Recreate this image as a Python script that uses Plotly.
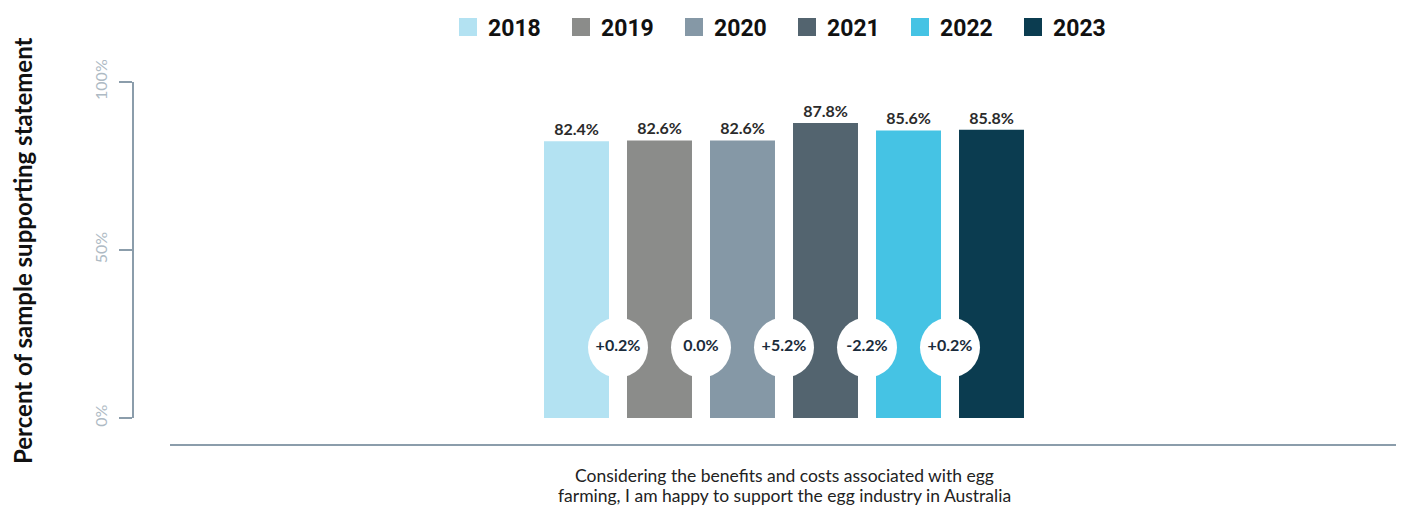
import plotly.graph_objects as go

years = [2018, 2019, 2020, 2021, 2022, 2023]
values = [82.4, 82.6, 82.6, 87.8, 85.6, 85.8]
changes = ["+0.2%", "0.0%", "+5.2%", "-2.2%", "+0.2%"]
colors = ["#b3e2f2", "#8b8c8a", "#8598a6", "#53646f", "#45c3e4", "#0b3c50"]
y_ticks = [0, 50, 100]
y_ticktext = ["0%", "50%", "100%"]
question_lines = ["Considering the benefits and costs associated with egg",
                  "farming, I am happy to support the egg industry in Australia"]
y_title = "Percent of sample supporting statement"
circle_level = 21

FONT = "Lato, Open Sans, sans-serif"
OFF = 8  # page body margin

fig = go.Figure()

for yr, v, c in zip(years, values, colors):
    fig.add_trace(go.Bar(
        x=[yr], y=[v], width=0.783, marker=dict(color=c, line=dict(width=0)),
        text=[f"<b>{v:.1f}%</b>"], textposition="outside", cliponaxis=False,
        textfont=dict(family=FONT, size=16, color="#2b2b2b"),
        showlegend=False, hoverinfo="skip"))

# legend entries
for yr, c in zip(years, colors):
    fig.add_trace(go.Scatter(
        x=[None], y=[None], mode="markers", name=f"<b>{yr}</b>",
        marker=dict(symbol="square", size=16, color=c, line=dict(color=c, width=2))))

# change circles between bars
mid_x = [(a + b) / 2 for a, b in zip(years[:-1], years[1:])]
fig.add_trace(go.Scatter(
    x=mid_x, y=[circle_level] * len(mid_x), mode="markers+text",
    marker=dict(size=60, color="white", line=dict(width=0)),
    text=[f"<b>{t}</b>" for t in changes], textposition="middle center",
    textfont=dict(family=FONT, size=16, color="#1a2b3b"),
    showlegend=False, hoverinfo="skip", cliponaxis=False))

W, H = 1404 - OFF, 505 - OFF
ml, mr, mt = 133 - OFF, 1404 - 1397, 82 - OFF
mb = H - (445 - OFF)
pw, ph = W - ml - mr, H - mt - mb
x_dom0 = (170 - 133) / pw
y_dom0 = 27 / ph
px_per_unit = 83
x_lo = years[0] + (170 - 576.5) / px_per_unit
x_hi = years[0] + (1397 - 576.5) / px_per_unit

annotations = [
    dict(text=f"<b>{y_title}</b>", xref="paper", x=(22 - 133) / pw, xanchor="center",
         yref="paper", y=(445 - 251) / ph, yanchor="middle", textangle=-90,
         showarrow=False,
         font=dict(family=FONT, size=24, color="#111111")),
]
for i, line in enumerate(question_lines):
    annotations.append(dict(
        text=line, xref="x", x=(years[0] + years[-1]) / 2,
        yref="paper", y=-(475 + 20 * i - 445) / ph, yanchor="middle",
        height=19, borderpad=0,
        showarrow=False, align="center",
        font=dict(family=FONT, size=17.5, color="#222222")))

fig.update_layout(
    width=W, height=H,
    margin=dict(l=ml, r=mr, t=mt, b=mb, autoexpand=False),
    paper_bgcolor="white", plot_bgcolor="white",
    barmode="overlay",
    legend=dict(orientation="h", x=(448 - 133) / pw, xanchor="left",
                yref="container", y=1 - (27 - OFF) / H, yanchor="middle",
                entrywidth=68, entrywidthmode="pixels",
                font=dict(family="Roboto, Liberation Sans, sans-serif",
                          size=23, color="#111111"),
                itemclick=False, itemdoubleclick=False),
    xaxis=dict(domain=[x_dom0, 1], range=[x_lo, x_hi], anchor="free", position=0,
               showline=True, linecolor="#8b9dab", linewidth=2,
               showgrid=False, zeroline=False, showticklabels=False, ticks=""),
    yaxis=dict(domain=[y_dom0, 1], range=[0, 100], anchor="free", position=0,
               showline=True, linecolor="#8b9dab", linewidth=2,
               ticks="outside", ticklen=13, tickwidth=2, tickcolor="#8b9dab",
               tickvals=y_ticks, ticktext=y_ticktext, tickangle=-90,
               ticklabelstandoff=6,
               tickfont=dict(family=FONT, size=16, color="#aebac4"),
               showgrid=False, zeroline=False),
    annotations=annotations,
)

fig.write_html("out.html")
